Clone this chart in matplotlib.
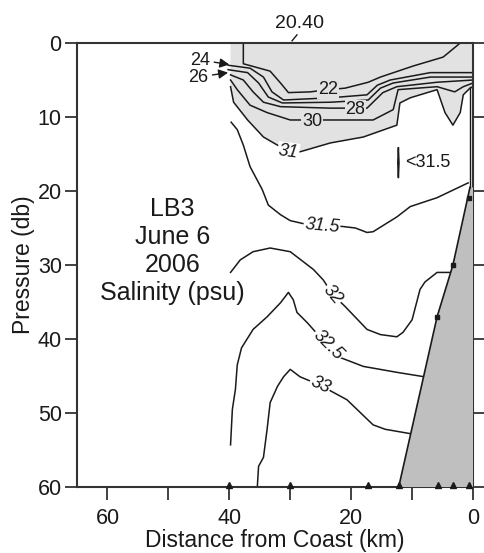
import matplotlib
matplotlib.use("Agg")
import matplotlib.pyplot as plt
import numpy as np

plt.rcParams['font.family'] = ['Liberation Sans', 'DejaVu Sans']

# ---- data (distance from coast km, pressure db) ----
c22_km = [37.7, 37.7, 33.3, 31.6, 30.3, 26.7, 23.8, 21.0, 17.2, 15.2, 9.8, 4.9, 2.1]
c22_p  = [0.0, 2.8, 3.8, 5.4, 6.7, 6.6, 6.3, 6.1, 5.3, 4.6, 3.1, 1.9, 0.0]

c24_km = [40.2, 36.6, 34.4, 33.0, 31.1, 23.4, 17.4, 15.7, 13.6, 7.0, 0.0]
c24_p  = [3.0, 3.4, 4.6, 6.6, 7.7, 7.4, 7.0, 5.7, 5.0, 4.0, 4.0]

c26_km = [40.2, 37.0, 35.2, 33.6, 31.3, 23.4, 17.2, 15.2, 13.1, 7.0, 0.0]
c26_p  = [3.6, 4.0, 5.4, 7.3, 8.1, 8.0, 7.7, 6.1, 5.4, 4.6, 4.6]

c28_km = [39.8, 37.7, 36.1, 34.4, 31.6, 23.4, 17.4, 14.8, 12.5, 5.9, 0.0]
c28_p  = [4.3, 5.0, 6.6, 8.0, 8.6, 8.8, 8.8, 6.7, 5.9, 5.3, 5.0]

c30_km = [39.8, 38.7, 36.6, 33.8, 30.0, 21.8, 16.4, 13.1, 12.3, 5.9, 3.0, 1.6, 0.0]
c30_p  = [5.0, 6.3, 8.4, 9.4, 10.4, 10.4, 10.4, 9.0, 6.3, 5.9, 6.6, 5.9, 5.4]

c31_km = [39.8, 39.3, 37.0, 34.4, 32.1, 30.3, 28.4, 23.4, 18.0, 12.5, 12.0, 10.3,
          5.9, 4.6, 3.3, 2.1, 1.6, 0.5, 0.0]
c31_p  = [5.9, 8.0, 10.4, 12.7, 13.8, 14.4, 14.7, 13.5, 12.7, 11.1, 8.1, 7.4,
          6.3, 9.4, 11.1, 9.4, 7.0, 6.1, 5.9]

c315_km = [39.7, 38.7, 37.7, 36.6, 34.6, 33.6, 31.6, 30.0, 27.9, 21.3, 19.3, 17.4,
           16.4, 12.5, 10.3, 5.9, 0.8]
c315_p  = [10.7, 11.7, 13.8, 16.7, 19.8, 21.9, 23.2, 24.0, 24.4, 24.8, 25.0, 25.6,
           25.5, 23.5, 22.1, 20.9, 18.9]

c32_km = [39.8, 38.2, 36.1, 33.3, 30.0, 26.2, 24.6, 23.0, 21.0, 17.4, 15.2, 12.5,
          11.5, 10.0, 8.7, 7.9, 5.9, 3.8]
c32_p  = [31.0, 29.3, 28.2, 27.7, 28.2, 30.6, 32.0, 34.0, 35.6, 38.7, 39.4, 39.7,
          39.1, 37.4, 33.3, 32.3, 31.0, 31.0]

c325_km = [39.8, 39.5, 39.0, 38.7, 38.0, 36.1, 33.8, 31.6, 30.3, 29.5, 28.9, 27.2,
           25.9, 21.8, 18.0, 12.5, 8.0]
c325_p  = [54.3, 49.5, 46.8, 43.5, 41.2, 38.7, 37.0, 35.1, 33.7, 34.7, 36.4, 37.8,
           39.0, 42.5, 43.7, 44.5, 45.1]

c33_km = [35.4, 35.2, 34.4, 33.8, 33.3, 32.1, 31.1, 30.0, 28.4, 25.2, 23.4, 20.7,
          16.4, 14.4, 10.2]
c33_p  = [59.9, 57.2, 56.0, 52.2, 48.6, 46.4, 45.1, 44.1, 45.1, 46.2, 47.0, 48.2,
          51.6, 52.2, 52.8]

# small closed <31.5 patch
patch_km = [12.25, 12.35, 12.25, 12.15, 12.25]
patch_p = [14.2, 16.2, 18.2, 16.2, 14.2]

# bottom topography
topo_km = [0.5, 3.3, 5.9, 12.2]
topo_p = [19.5, 30.0, 37.0, 60.0]

stations_km = [40.0, 30.0, 17.2, 12.1, 5.7, 3.3, 0.7]
station_bottom_km = [0.7, 3.3, 5.9]
station_bottom_p = [21.0, 30.0, 37.0]

x_ticks = [60, 50, 40, 30, 20, 10, 0]
x_ticklabels = ['60', '', '40', '', '20', '', '0']
y_ticks = [0, 10, 20, 30, 40, 50, 60]

# ---- figure ----
fig = plt.figure(figsize=(4.85, 5.53), dpi=100)
ax = fig.add_axes([0.1588, 0.1193, 0.8165, 0.8029])
ax.set_xlim(65, 0)
ax.set_ylim(60, 0)

LIGHT = '#e2e2e2'
DARK = '#bfbfbf'
LC = '#1a1a1a'

# shading where salinity < 31
ax.fill(list(c31_km) + [0.0, 39.8], list(c31_p) + [0.0, 0.0], color=LIGHT, lw=0, zorder=1)

# topography
ax.fill([0.0] + topo_km + [0.0], [topo_p[0]] + topo_p + [60.0], color=DARK, lw=0, zorder=3)
ax.plot(topo_km, topo_p, color=LC, lw=1.2, zorder=4)
ax.plot([0.5, 0.5], [5.9, 19.5], color=LC, lw=1.0, zorder=4)

lw = 1.1
for xs, ys in [(c22_km, c22_p), (c24_km, c24_p), (c26_km, c26_p), (c28_km, c28_p),
               (c30_km, c30_p), (c31_km, c31_p), (c315_km, c315_p), (c32_km, c32_p),
               (c325_km, c325_p), (c33_km, c33_p), (patch_km, patch_p)]:
    ax.plot(xs, ys, color=LC, lw=lw, zorder=2, solid_joinstyle='round')

def clabel(x, y, s, rot=0, bg='white', style='normal', fs=13):
    ax.text(x, y, s, rotation=rot, ha='center', va='center', fontsize=fs, style=style,
            color=LC, zorder=5,
            bbox=dict(boxstyle='square,pad=0.05', fc=bg, ec='none'))

clabel(23.8, 6.3, '22', bg=LIGHT)
clabel(19.3, 9.0, '28', bg=LIGHT)
clabel(26.4, 10.6, '30', bg=LIGHT)
clabel(30.3, 14.7, '31', rot=-8, style='italic')
clabel(24.8, 24.7, '31.5', rot=-5, style='italic')
clabel(23.0, 34.0, '32', rot=-50, style='italic')
clabel(23.8, 40.8, '32.5', rot=-45, style='italic')
clabel(25.1, 46.2, '33', rot=-25, style='italic')

ax.text(11.2, 16.2, '<31.5', fontsize=13, ha='left', va='center', color=LC)

# arrow annotations
ax.annotate('24', xy=(40.0, 2.9), xytext=(44.8, 2.3), fontsize=13, ha='center', va='center',
            color=LC, arrowprops=dict(arrowstyle='-|>', color=LC, lw=1.0, mutation_scale=14,
                                      shrinkA=1, shrinkB=0))
ax.annotate('26', xy=(40.2, 4.0), xytext=(45.1, 4.6), fontsize=13, ha='center', va='center',
            color=LC, arrowprops=dict(arrowstyle='-|>', color=LC, lw=1.0, mutation_scale=14,
                                      shrinkA=1, shrinkB=0))

# surface label
ax.text(28.4, -2.6, '20.40', fontsize=14, ha='center', va='center', color=LC, clip_on=False)
ax.plot([29.7, 28.9], [-0.3, -1.1], color=LC, lw=1.0, clip_on=False)

# station title
ax.text(49.3, 28.1, 'LB3\nJune 6\n2006\nSalinity (psu)', fontsize=18, ha='center',
        va='center', color=LC, linespacing=1.22)

# stations
ax.plot(stations_km, [59.75] * len(stations_km), linestyle='none', marker='^', ms=4,
        color=LC, clip_on=False, zorder=6)
ax.plot(station_bottom_km, station_bottom_p, linestyle='none', marker='s', ms=2.2,
        color=LC, zorder=6)

# axes styling
for s in ['left', 'bottom', 'right', 'top']:
    ax.spines[s].set_linewidth(1.5)
    ax.spines[s].set_color('#333333')
ax.set_xticks(x_ticks)
ax.set_xticklabels(x_ticklabels)
ax.set_yticks(y_ticks)
ax.tick_params(axis='both', direction='out', length=9, width=1.3, colors='#333333',
               labelsize=15.5, labelcolor='#1a1a1a')
ax.tick_params(axis='y', right=True, pad=2)
ax.tick_params(axis='x', pad=6)
ax.set_xlabel('Distance from Coast (km)', fontsize=16.5, labelpad=0, color='#1a1a1a')
ax.set_ylabel('Pressure (db)', fontsize=16.5, labelpad=2, color='#1a1a1a')

fig.savefig('out.png', dpi=100)
